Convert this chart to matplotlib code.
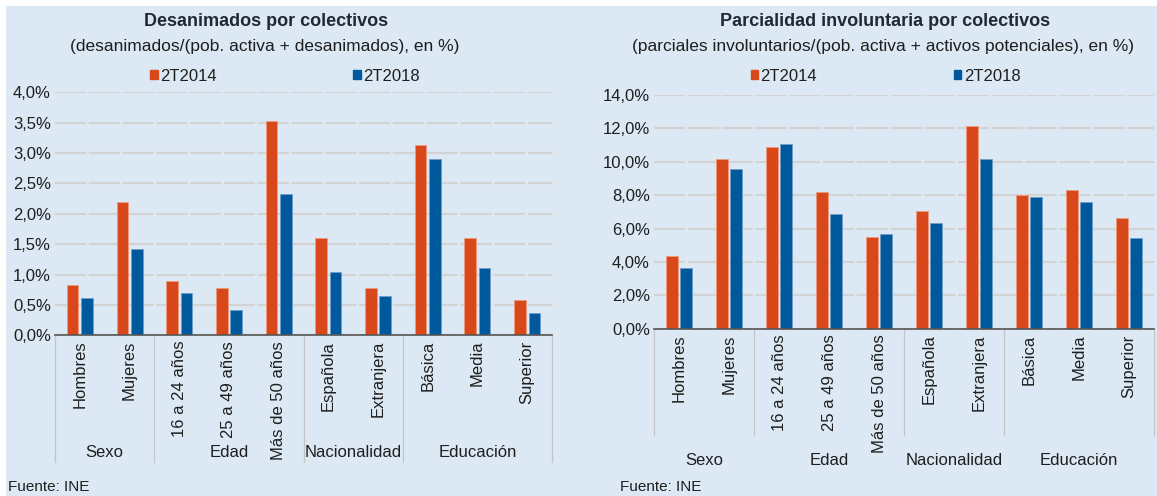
import matplotlib.pyplot as plt
import numpy as np
from matplotlib.patches import Patch, Rectangle
from matplotlib.ticker import FuncFormatter
import matplotlib.transforms as mtransforms

plt.rcParams['font.family'] = ['Liberation Sans', 'DejaVu Sans']

# Data
categories = ['Hombres', 'Mujeres', '16 a 24 años', '25 a 49 años', 'Más de 50 años',
              'Española', 'Extranjera', 'Básica', 'Media', 'Superior']
groups = ['Sexo', 'Edad', 'Nacionalidad', 'Educación']
group_sizes = [2, 3, 2, 3]
series_names = ['2T2014', '2T2018']

desanimados_2014 = [0.82, 2.20, 0.89, 0.78, 3.53, 1.60, 0.78, 3.14, 1.60, 0.58]
desanimados_2018 = [0.62, 1.42, 0.69, 0.42, 2.33, 1.05, 0.64, 2.91, 1.10, 0.37]

parciales_2014 = [4.34, 10.16, 10.91, 8.21, 5.52, 7.06, 12.14, 8.01, 8.29, 6.65]
parciales_2018 = [3.62, 9.54, 11.08, 6.89, 5.68, 6.32, 10.15, 7.87, 7.61, 5.42]

orange = '#d9481b'
blue = '#00599d'
bg = '#dce9f5'
txt = '#1e1e1e'

W, H = 1157, 496
fig = plt.figure(figsize=(W / 100, H / 100), dpi=100, facecolor='white')
fig.patches.append(Rectangle((6 / W, 0), 1 - 6 / W, 1 - 6 / H, transform=fig.transFigure,
                             facecolor=bg, edgecolor='none', zorder=-10))


def px_axes(x0, x1, y_top, y_bot):
    return fig.add_axes([x0 / W, 1 - y_bot / H, (x1 - x0) / W, (y_bot - y_top) / H])


def draw_panel(ax, v14, v18, ymax, ystep, sep_bottom, group_y, legend_y):
    x = np.arange(len(categories))
    bw = 0.235
    ax.bar(x - 0.145, v14, bw, color=orange, edgecolor='#ee9a7c', linewidth=0.6, zorder=3)
    ax.bar(x + 0.145, v18, bw, color=blue, edgecolor='#6f9dc9', linewidth=0.6, zorder=3)
    ax.set_facecolor('none')
    ax.set_xlim(-0.5, len(categories) - 0.5)
    ax.set_ylim(0, ymax)
    ax.set_yticks(np.arange(0, ymax + ystep / 2, ystep))
    ax.yaxis.set_major_formatter(FuncFormatter(lambda v, p: f'{v:.1f}%'.replace('.', ',')))
    ax.yaxis.grid(True, color='#d3d3d3', linewidth=1.6, linestyle=(0, (14, 1.2)))
    ax.set_axisbelow(True)
    for s in ['top', 'right', 'left']:
        ax.spines[s].set_visible(False)
    ax.spines['bottom'].set_color('#555555')
    ax.spines['bottom'].set_linewidth(1.2)
    ax.spines['bottom'].set_zorder(4)
    ax.set_xticks(x)
    ax.set_xticklabels(categories, rotation=90, va='top', ha='center')
    ax.tick_params(axis='both', length=0, labelsize=12, colors=txt)
    ax.tick_params(axis='x', pad=4)
    ax.tick_params(axis='y', pad=3)

    # group separators and labels
    trans = mtransforms.blended_transform_factory(ax.transData, ax.transAxes)
    edges = np.concatenate([[0], np.cumsum(group_sizes)]) - 0.5
    for e in edges:
        ax.plot([e, e], [0, sep_bottom], transform=trans, color='#c4c4c4',
                linewidth=0.9, clip_on=False)
    for g, a, b in zip(groups, edges[:-1], edges[1:]):
        ax.text((a + b) / 2, group_y, g, transform=trans, ha='center', va='center',
                fontsize=12, color=txt)

    handles = [Patch(color=orange), Patch(color=blue)]
    ax.legend(handles, series_names, ncol=2, loc='center', bbox_to_anchor=(0.463, legend_y),
              frameon=False, fontsize=12, handlelength=0.45, handleheight=0.45,
              handletextpad=0.15, columnspacing=8.2, labelcolor=txt)


ax1 = px_axes(55, 552, 92.3, 335.3)
draw_panel(ax1, desanimados_2014, desanimados_2018, 4.0, 0.5, -0.521, -0.484, 1.067)

ax2 = px_axes(654, 1154, 95, 328.7)
draw_panel(ax2, parciales_2014, parciales_2018, 14.0, 2.0, -0.455, -0.562, 1.081)

# titles
fig.text(266 / W, 1 - 22 / H, 'Desanimados por colectivos', ha='center', va='center',
         fontsize=13, fontweight='bold', color='#202838')
fig.text(265 / W, 1 - 46 / H, '(desanimados/(pob. activa + desanimados), en %)',
         ha='center', va='center', fontsize=12.5, color=txt)
fig.text(885 / W, 1 - 22 / H, 'Parcialidad involuntaria por colectivos', ha='center',
         va='center', fontsize=13, fontweight='bold', color='#202838')
fig.text(883 / W, 1 - 46 / H, '(parciales involuntarios/(pob. activa + activos potenciales), en %)',
         ha='center', va='center', fontsize=12.5, color=txt)

fig.text(8 / W, 1 - 487 / H, 'Fuente: INE', ha='left', va='center', fontsize=11, color=txt)
fig.text(620 / W, 1 - 487 / H, 'Fuente: INE', ha='left', va='center', fontsize=11, color=txt)

fig.savefig('out.png', dpi=100, facecolor=fig.get_facecolor())
